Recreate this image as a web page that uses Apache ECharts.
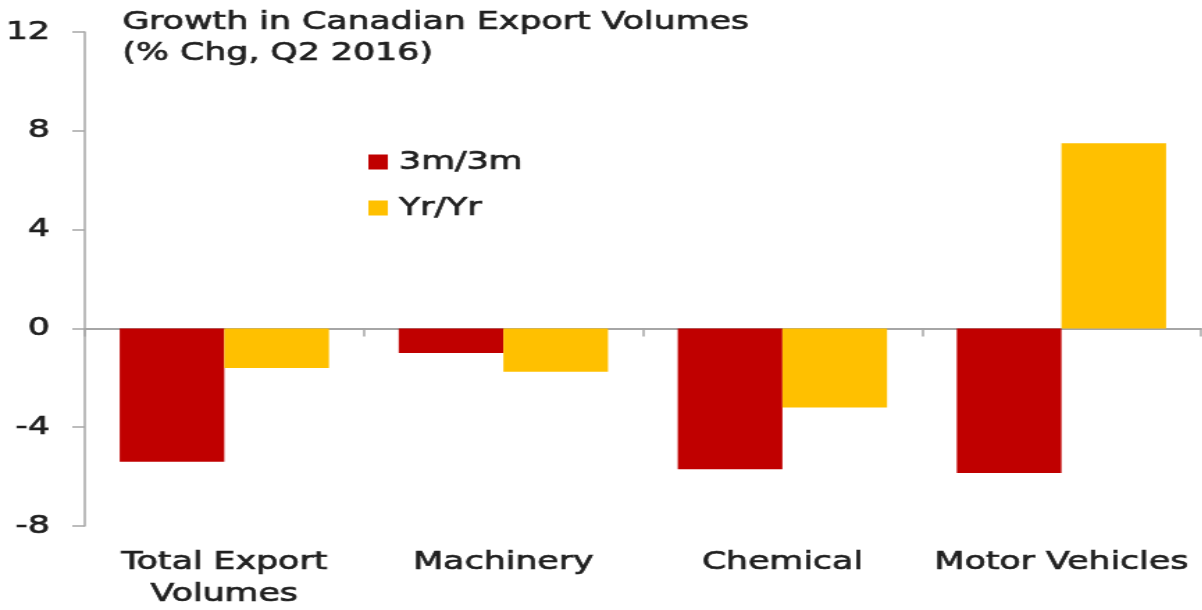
<!DOCTYPE html>
<html lang="en">
<head>
<meta charset="utf-8">
<title>Growth in Canadian Export Volumes</title>
<script src="https://cdn.jsdelivr.net/npm/echarts@6/dist/echarts.min.js"></script>
<style>
  html, body { margin: 0; padding: 0; background: #fff; overflow: hidden; }
  /* the source image is stretched wide, so the chart is drawn narrow and scaled out */
  #chart { width: 865px; height: 610px; transform: scaleX(1.39); transform-origin: 0 0; }
</style>
</head>
<body>
<div id="chart"></div>
<script>
  var categories = ['Total Export\nVolumes', 'Machinery', 'Chemical', 'Motor Vehicles'];
  var threeMonth = [-5.4, -1.0, -5.7, -5.85];
  var yearOnYear = [-1.6, -1.75, -3.2, 7.5];
  var seriesNames = ['3m/3m', 'Yr/Yr'];

  var textColor = '#1f1f1f';
  var axisGrey = '#a6a6a6';
  var font = 'DejaVu Sans';
  // a thin outline gives the text the heavier look of the original
  var heavy = { textBorderColor: textColor, textBorderWidth: 0.7 };

  var chart = echarts.init(document.getElementById('chart'));
  chart.setOption({
    animation: false,
    title: {
      text: 'Growth in Canadian Export Volumes\n(% Chg, Q2 2016)',
      left: 88,
      top: 7,
      padding: 0,
      textStyle: Object.assign({
        fontFamily: font,
        fontSize: 25,
        fontWeight: 'normal',
        lineHeight: 31,
        color: textColor
      }, heavy)
    },
    legend: {
      orient: 'vertical',
      left: 265,
      top: 149,
      padding: 0,
      itemWidth: 14,
      itemHeight: 15,
      itemGap: 20,
      icon: 'rect',
      data: seriesNames,
      textStyle: Object.assign({
        fontFamily: font,
        fontSize: 25,
        lineHeight: 26,
        color: textColor,
        padding: [0, 0, 0, 3]
      }, heavy)
    },
    grid: {
      left: 61,
      right: 1,
      top: 32,
      bottom: 84,
      outerBoundsMode: 'none'
    },
    xAxis: [{
      type: 'category',
      data: categories,
      axisLine: { show: false, onZero: false },
      axisTick: { show: false },
      axisLabel: Object.assign({
        interval: 0,
        margin: 20,
        fontFamily: font,
        fontSize: 25,
        lineHeight: 32,
        color: textColor
      }, heavy)
    }, {
      type: 'category',
      data: categories,
      position: 'bottom',
      axisLine: { show: true, onZero: true, lineStyle: { color: axisGrey, width: 2 } },
      axisTick: { show: true, length: 8, lineStyle: { color: axisGrey, width: 1.5 } },
      axisLabel: { show: false }
    }],
    yAxis: {
      type: 'value',
      min: -8,
      max: 12,
      interval: 4,
      axisLine: { show: true, lineStyle: { color: axisGrey, width: 1.5 } },
      axisTick: { show: true, length: 9, lineStyle: { color: axisGrey, width: 1.5 } },
      splitLine: { show: false },
      axisLabel: Object.assign({
        margin: 25,
        fontFamily: font,
        fontSize: 25,
        color: textColor
      }, heavy)
    },
    series: [{
      name: seriesNames[0],
      type: 'bar',
      xAxisIndex: 0,
      barGap: 0,
      barCategoryGap: '25%',
      itemStyle: { color: '#c00000' },
      data: threeMonth
    }, {
      name: seriesNames[1],
      type: 'bar',
      xAxisIndex: 0,
      barGap: 0,
      barCategoryGap: '25%',
      itemStyle: { color: '#ffc000' },
      data: yearOnYear
    }]
  });
</script>
</body>
</html>
